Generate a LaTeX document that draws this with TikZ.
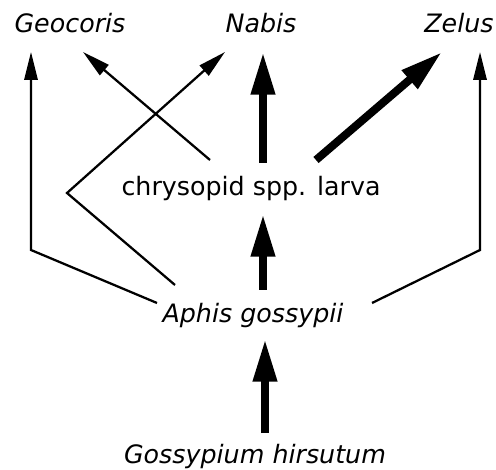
\documentclass[tikz,border=0pt]{standalone}
\usepackage{fontspec}
\setmainfont{DejaVu Sans}
\usetikzlibrary{arrows.meta}

\tikzset{
  taxon/.style={inner sep=0pt, anchor=base, font=\fontsize{19}{22}\selectfont},
  genus/.style={taxon, font=\fontsize{19}{22}\selectfont\itshape},
  weaklink/.style={line width=1.7pt, line join=miter,
    -{Triangle[length=21pt, width=10pt]}},
  stronglink/.style={line width=6pt,
    -{Triangle[length=32pt, width=17pt]}}
}

\begin{document}
\begin{tikzpicture}[x=0.75pt, y=-0.75pt]
  \useasboundingbox (0,0) rectangle (496,470);

  % species
  \node[genus] (geocoris) at (70,33) {Geocoris};
  \node[genus] (nabis)    at (261,33) {Nabis};
  \node[genus] (zelus)    at (459,33) {Zelus};
  \node[taxon] (chryso)   at (251,196) {chrysopid spp. larva};
  \node[genus] (aphis)    at (253,322) {Aphis gossypii};
  \node[genus] (cotton)   at (255,463) {Gossypium hirsutum};

  % connector ends and bends
  \coordinate (aphisGeoStart) at (157,303);
  \coordinate (geoBend)       at (31,250);
  \coordinate (geoTipA)       at (31,52);
  \coordinate (aphisZelStart) at (372,303);
  \coordinate (zelBend)       at (480,250);
  \coordinate (zelTipA)       at (480,52);
  \coordinate (aphisNabStart) at (175,285);
  \coordinate (nabBend)       at (67,193);
  \coordinate (nabTipA)       at (225,52);
  \coordinate (chrGeoStart)   at (210,160);
  \coordinate (geoTipC)       at (83,52);
  \coordinate (chrNabStart)   at (263,163);
  \coordinate (nabTipC)       at (263,52);
  \coordinate (chrZelStart)   at (316,160);
  \coordinate (zelTipC)       at (442,52);
  \coordinate (aphisChrStart) at (263,290);
  \coordinate (chrTip)        at (263,214);
  \coordinate (cottonStart)   at (265,433);
  \coordinate (aphisTip)      at (265,339);

  % feeding links from the aphid
  \draw[weaklink] (aphisGeoStart) -- (geoBend) -- (geoTipA);
  \draw[weaklink] (aphisZelStart) -- (zelBend) -- (zelTipA);
  \draw[weaklink] (aphisNabStart) -- (nabBend) -- (nabTipA);
  \draw[stronglink] (aphisChrStart) -- (chrTip);

  % feeding links from the lacewing larva
  \draw[weaklink] (chrGeoStart) -- (geoTipC);
  \draw[stronglink] (chrNabStart) -- (nabTipC);
  \draw[stronglink] (chrZelStart) -- (zelTipC);

  % plant to aphid
  \draw[stronglink] (cottonStart) -- (aphisTip);
\end{tikzpicture}
\end{document}
